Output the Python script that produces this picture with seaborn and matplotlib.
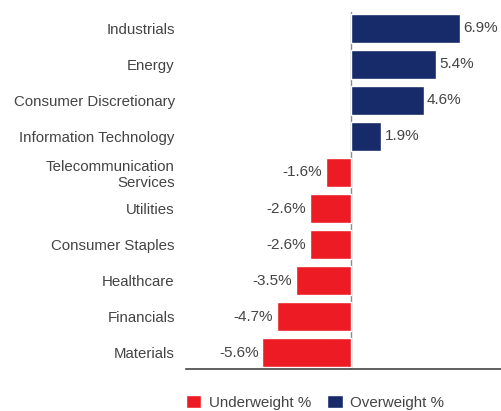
import pandas as pd
import seaborn as sns
from matplotlib import pyplot as plt
from matplotlib.patches import Patch

categories = ["Industrials", "Energy", "Consumer Discretionary", "Information Technology",
              "Telecommunication\nServices", "Utilities", "Consumer Staples", "Healthcare",
              "Financials", "Materials"]
values = [6.9, 5.4, 4.6, 1.9, -1.6, -2.6, -2.6, -3.5, -4.7, -5.6]
legend_labels = ["Underweight %", "Overweight %"]

RED = "#ED1C24"
NAVY = "#172A69"
TEXT = "#444444"


def plot_weights():
    df = pd.DataFrame({"sector": categories, "value": values})
    df["side"] = [legend_labels[1] if v > 0 else legend_labels[0] for v in values]

    sns.set_style("white")
    plt.rcParams["font.family"] = ["Liberation Sans", "DejaVu Sans"]

    fig = plt.figure(figsize=(5.01, 4.11), dpi=100)
    ax = fig.add_axes([0.371, 0.1034, 0.629, 0.8662])
    sns.barplot(data=df, x="value", y="sector", hue="side", dodge=False,
                palette={legend_labels[0]: RED, legend_labels[1]: NAVY},
                orient="h", width=0.8, saturation=1, legend=False, ax=ax)

    # Value labels at the bar ends.
    for i, v in enumerate(values):
        if v > 0:
            ax.text(v + 0.22, i, f"{v:.1f}%", ha="left", va="center", fontsize=11, color=TEXT)
        else:
            ax.text(v - 0.22, i, f"{v:.1f}%", ha="right", va="center", fontsize=11, color=TEXT)

    ax.axvline(0, color="#8c8c8c", lw=1, zorder=0)
    ax.set_xlim(-10.45, 9.5)
    ax.set_ylim(9.44, -0.44)
    ax.set_xlabel("")
    ax.set_ylabel("")
    ax.set_xticks([])
    ax.tick_params(axis="y", length=0, pad=8, labelsize=10.8, labelcolor=TEXT)
    for lbl in ax.get_yticklabels():
        lbl.set_multialignment("right")
    for side in ["left", "right", "top"]:
        ax.spines[side].set_visible(False)
    ax.spines["bottom"].set_color("#444444")
    ax.spines["bottom"].set_linewidth(1.2)

    handles = [Patch(facecolor=RED), Patch(facecolor=NAVY)]
    fig.legend(handles, legend_labels, loc="upper left", bbox_to_anchor=(0.371, 0.04),
               ncol=2, frameon=False, fontsize=10.9, labelcolor=TEXT,
               handlelength=1.0, handleheight=1.0, handletextpad=0.5,
               columnspacing=1.1, borderpad=0, borderaxespad=0)

    fig.savefig("out.png", dpi=100)


if __name__ == "__main__":
    plot_weights()
